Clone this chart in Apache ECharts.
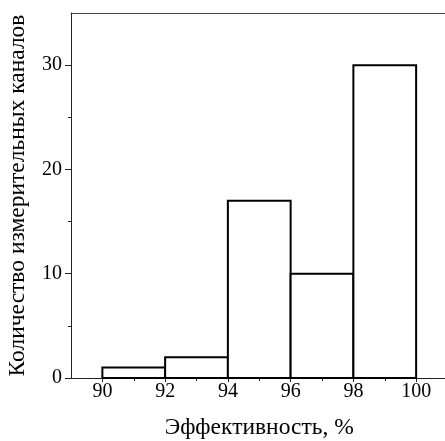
<!DOCTYPE html>
<html><head><meta charset="utf-8">
<script src="https://cdn.jsdelivr.net/npm/echarts@6/dist/echarts.min.js"></script>
<style>html,body{margin:0;padding:0;background:#fff}#c{width:445px;height:441px}</style>
</head><body><div id="c"></div>
<script>
const binStart = [90, 92, 94, 96, 98];
const binEnd = [92, 94, 96, 98, 100];
const counts = [1, 2, 17, 10, 30];
const xTickLabels = [90, 92, 94, 96, 98, 100];
const xMinorTicks = [91, 93, 95, 97, 99];
const yTickLabels = [0, 10, 20, 30];
const yMinorTicks = [5, 15, 25];

const font = 'Liberation Serif, Times New Roman, serif';
const axisColor = '#222';
const chart = echarts.init(document.getElementById('c'));
const data = binStart.map((s, i) => [s, binEnd[i], counts[i]]);
chart.setOption({
  animation: false,
  grid: { left: 71, top: 13, width: 376.5, bottom: 63, show: false, outerBoundsMode: 'none', containLabel: false },
  xAxis: [{
    type: 'value', min: 89, max: 101,
    name: 'Эффективность, %', nameLocation: 'middle', nameGap: 38,
    nameTextStyle: { fontFamily: font, fontSize: 23.5, color: '#000' },
    axisLine: { show: true, lineStyle: { color: axisColor, width: 1 } },
    axisTick: { show: true, inside: false, length: 4, customValues: xTickLabels, lineStyle: { color: axisColor } },
    axisLabel: { customValues: xTickLabels, margin: 4, fontFamily: font, fontSize: 20, color: '#000' },
    splitLine: { show: false }
  }, {
    type: 'value', min: 89, max: 101, position: 'bottom',
    axisLine: { show: false },
    axisTick: { show: true, inside: false, length: 3, customValues: xMinorTicks, lineStyle: { color: axisColor } },
    axisLabel: { show: false },
    splitLine: { show: false }
  }, {
    type: 'value', min: 89, max: 101, position: 'top',
    axisLine: { show: true, lineStyle: { color: '#444', width: 1 } },
    axisTick: { show: false },
    axisLabel: { show: false },
    splitLine: { show: false }
  }],
  yAxis: [{
    type: 'value', min: 0, max: 35,
    name: 'Количество измерительных каналов', nameLocation: 'middle', nameGap: 41,
    nameTextStyle: { fontFamily: font, fontSize: 23.5, color: '#000' },
    axisLine: { show: true, lineStyle: { color: axisColor, width: 1 } },
    axisTick: { show: true, inside: false, length: 6, customValues: yTickLabels, lineStyle: { color: axisColor } },
    axisLabel: { customValues: yTickLabels, margin: 9, fontFamily: font, fontSize: 20, color: '#000' },
    splitLine: { show: false }
  }, {
    type: 'value', min: 0, max: 35, position: 'left',
    axisLine: { show: false },
    axisTick: { show: true, inside: false, length: 3, customValues: yMinorTicks, lineStyle: { color: axisColor } },
    axisLabel: { show: false },
    splitLine: { show: false }
  }],
  series: [{
    type: 'custom',
    xAxisIndex: 0, yAxisIndex: 0,
    data: data,
    encode: { x: [0, 1], y: 2 },
    renderItem: function (params, api) {
      const p0 = api.coord([api.value(0), api.value(2)]);
      const p1 = api.coord([api.value(1), 0]);
      return {
        type: 'rect',
        shape: { x: p0[0], y: p0[1], width: p1[0] - p0[0], height: p1[1] - p0[1] },
        style: { fill: '#fff', stroke: '#000', lineWidth: 2 }
      };
    }
  }]
});
</script></body></html>
